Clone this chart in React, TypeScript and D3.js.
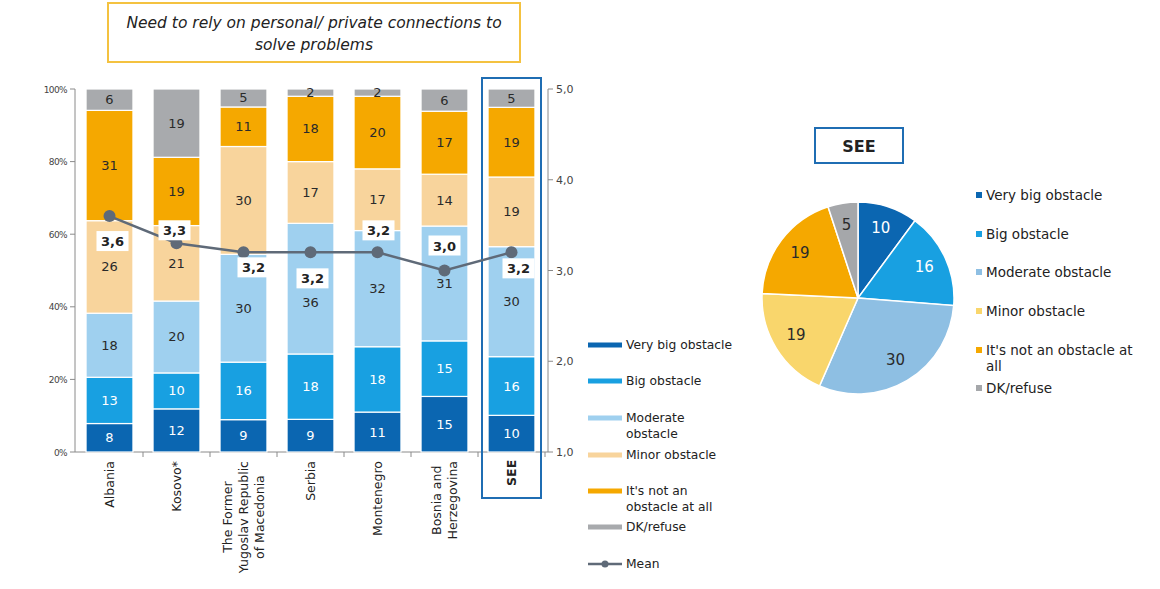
import React, { useEffect, useRef } from 'react';
import * as d3 from 'd3';

// ---------- data ----------
const categories = [
  'Albania',
  'Kosovo*',
  'The Former\nYugoslav Republic\nof Macedonia',
  'Serbia',
  'Montenegro',
  'Bosnia and\nHerzegovina',
  'SEE',
];
const seriesNames = [
  'Very big obstacle',
  'Big obstacle',
  'Moderate obstacle',
  'Minor obstacle',
  "It's not an obstacle at all",
  'DK/refuse',
];
const veryBig = [8, 12, 9, 9, 11, 15, 10];
const big = [13, 10, 16, 18, 18, 15, 16];
const moderate = [18, 20, 30, 36, 32, 31, 30];
const minor = [26, 21, 30, 17, 17, 14, 19];
const notAtAll = [31, 19, 11, 18, 20, 17, 19];
const dkRefuse = [6, 19, 5, 2, 2, 6, 5];
const means = [3.6, 3.3, 3.2, 3.2, 3.2, 3.0, 3.2];
const pieValues = [10, 16, 30, 19, 19, 5];
const leftTicks = [0, 20, 40, 60, 80, 100];
const rightTicks = [1, 2, 3, 4, 5];
const titleLines = ['Need to rely on personal/ private connections to', 'solve problems'];

// ---------- styles ----------
const barColors = ['#0b66b1', '#18a0e1', '#9fd0ef', '#f8d49c', '#f5a800', '#a8aaad'];
const pieColors = ['#0b66b1', '#18a0e1', '#8ebfe3', '#f9d66c', '#f5a800', '#a5a7aa'];
const barTextColors = ['#ffffff', '#ffffff', '#2a2a2a', '#2a2a2a', '#2a2a2a', '#2a2a2a'];
const pieTextColors = ['#ffffff', '#ffffff', '#2a2a2a', '#2a2a2a', '#2a2a2a', '#2a2a2a'];
// mean label offsets relative to the dot [dx, dy]
const meanLabelOffsets: [number, number][] = [
  [3, 25], [-2, -13], [10, 15], [2, 26], [1, -22], [0, -25], [7, 16],
];
// vertical nudges for bar value labels: [seriesIndex, categoryIndex, dy]
const valueLabelNudges: [number, number, number][] = [[2, 3, 14]];
const FONT = "'DejaVu Sans', 'Liberation Sans', sans-serif";

export default function App() {
  const ref = useRef<SVGSVGElement | null>(null);

  useEffect(() => {
    const svg = d3.select(ref.current);
    svg.selectAll('*').remove();

    // ---------- title ----------
    svg.append('rect').attr('x', 108).attr('y', 3).attr('width', 412).attr('height', 59)
      .attr('fill', '#fff').attr('stroke', '#f4c240').attr('stroke-width', 2);
    titleLines.forEach((t, i) => {
      svg.append('text').attr('x', 314).attr('y', 28 + i * 22).attr('text-anchor', 'middle')
        .attr('font-family', FONT).attr('font-style', 'italic').attr('font-size', 15.5)
        .attr('fill', '#222').text(t);
    });

    // ---------- scales ----------
    const x = d3.scaleBand<string>().domain(categories).range([76, 545]).padding(0);
    const barW = x.bandwidth() * 0.7;
    const yPct = d3.scaleLinear().domain([0, 1]).range([452, 89]);
    const yLeft = d3.scaleLinear().domain([0, 100]).range([452, 89]);
    const yRight = d3.scaleLinear().domain([1, 5]).range([452, 89]);

    const seriesArrays = [veryBig, big, moderate, minor, notAtAll, dkRefuse];
    const rows = categories.map((c, i) => {
      const r: any = { cat: c };
      seriesNames.forEach((s, j) => (r[s] = seriesArrays[j][i]));
      return r;
    });
    const stack = d3.stack<any>().keys(seriesNames).offset(d3.stackOffsetExpand);
    const stacked = stack(rows);

    // ---------- axes ----------
    const axisColor = '#8a8a8a';
    const gAxes = svg.append('g');
    gAxes.append('line').attr('x1', 75).attr('x2', 75).attr('y1', 89).attr('y2', 452).attr('stroke', axisColor);
    gAxes.append('line').attr('x1', 75).attr('x2', 548).attr('y1', 452).attr('y2', 452).attr('stroke', axisColor);
    gAxes.append('line').attr('x1', 548).attr('x2', 548).attr('y1', 89).attr('y2', 452).attr('stroke', axisColor);
    leftTicks.forEach((t) => {
      const yy = yLeft(t);
      gAxes.append('line').attr('x1', 70).attr('x2', 75).attr('y1', yy).attr('y2', yy).attr('stroke', axisColor);
      gAxes.append('text').attr('x', 67).attr('y', yy + 3.5).attr('text-anchor', 'end')
        .attr('font-family', FONT).attr('font-size', 9).attr('letter-spacing', -0.6)
        .attr('fill', '#444').text(`${t}%`);
    });
    rightTicks.forEach((t) => {
      const yy = yRight(t);
      gAxes.append('line').attr('x1', 548).attr('x2', 553).attr('y1', yy).attr('y2', yy).attr('stroke', axisColor);
      gAxes.append('text').attr('x', 556).attr('y', yy + 4).attr('text-anchor', 'start')
        .attr('font-family', FONT).attr('font-size', 11).attr('fill', '#444').text(d3.format('.1f')(t).replace('.', ','));
    });
    categories.forEach((c) => {
      const xx = (x(c) as number) + x.bandwidth();
      gAxes.append('line').attr('x1', xx).attr('x2', xx).attr('y1', 452).attr('y2', 457).attr('stroke', axisColor);
    });

    // ---------- bars ----------
    const gBars = svg.append('g');
    stacked.forEach((layer, j) => {
      layer.forEach((d, i) => {
        const c = categories[i];
        const x0 = (x(c) as number) + (x.bandwidth() - barW) / 2;
        const y0 = yPct(d[1]);
        const y1 = yPct(d[0]);
        gBars.append('rect').attr('x', x0).attr('y', y0).attr('width', barW).attr('height', y1 - y0)
          .attr('fill', barColors[j]).attr('stroke', '#fff').attr('stroke-width', 1.2);
        const nudge = valueLabelNudges.find((n) => n[0] === j && n[1] === i);
        gBars.append('text').attr('x', x0 + barW / 2).attr('y', (y0 + y1) / 2 + 4.5 + (nudge ? nudge[2] : 0))
          .attr('text-anchor', 'middle').attr('font-family', FONT).attr('font-size', 13)
          .attr('fill', barTextColors[j]).text(seriesArrays[j][i]);
      });
    });

    // ---------- SEE highlight ----------
    const seeX = x('SEE') as number;
    svg.append('rect').attr('x', seeX + x.bandwidth() / 2 - 29.5).attr('y', 78).attr('width', 59).attr('height', 420)
      .attr('fill', 'none').attr('stroke', '#1f6db3').attr('stroke-width', 2);

    // ---------- x labels ----------
    const gX = svg.append('g');
    const xFont = 12.5;
    categories.forEach((c) => {
      const lines = c.split('\n');
      const cx = (x(c) as number) + x.bandwidth() / 2;
      const tmp = gX.append('text').attr('font-family', FONT).attr('font-size', xFont);
      let maxW = 0;
      lines.forEach((l) => {
        tmp.text(l);
        maxW = Math.max(maxW, (tmp.node() as SVGTextElement).getComputedTextLength());
      });
      tmp.remove();
      const cy = 461 + maxW / 2;
      const lh = 16;
      lines.forEach((l, k) => {
        const lx = cx + (k - (lines.length - 1) / 2) * lh + 4.5;
        gX.append('text').attr('transform', `translate(${lx},${cy}) rotate(-90)`)
          .attr('text-anchor', 'middle').attr('font-family', FONT).attr('font-size', xFont)
          .attr('fill', '#222').attr('font-weight', c === 'SEE' ? 'bold' : 'normal').text(l);
      });
    });

    // ---------- mean line ----------
    const meanColor = '#5f6a78';
    const line = d3.line<number>().x((_, i) => (x(categories[i]) as number) + x.bandwidth() / 2).y((d) => yRight(d));
    svg.append('path').attr('d', line(means) as string).attr('fill', 'none').attr('stroke', meanColor).attr('stroke-width', 2.5);
    means.forEach((m, i) => {
      const cx = (x(categories[i]) as number) + x.bandwidth() / 2;
      svg.append('circle').attr('cx', cx).attr('cy', yRight(m)).attr('r', 6).attr('fill', meanColor);
    });
    means.forEach((m, i) => {
      const cx = (x(categories[i]) as number) + x.bandwidth() / 2 + meanLabelOffsets[i][0];
      const cy = yRight(m) + meanLabelOffsets[i][1];
      svg.append('rect').attr('x', cx - 16).attr('y', cy - 10).attr('width', 32).attr('height', 20).attr('fill', '#fff');
      svg.append('text').attr('x', cx).attr('y', cy + 5).attr('text-anchor', 'middle')
        .attr('font-family', FONT).attr('font-size', 13).attr('font-weight', 'bold').attr('fill', '#222')
        .text(d3.format('.1f')(m).replace('.', ','));
    });

    // ---------- middle legend ----------
    const legendItems = [
      { lines: ['Very big obstacle'], y: 345 },
      { lines: ['Big obstacle'], y: 381 },
      { lines: ['Moderate', 'obstacle'], y: 418 },
      { lines: ['Minor obstacle'], y: 455 },
      { lines: ["It's not an", 'obstacle at all'], y: 491 },
      { lines: ['DK/refuse'], y: 527 },
    ];
    const legFont = 12.3;
    const gL = svg.append('g');
    legendItems.forEach((it, j) => {
      gL.append('line').attr('x1', 588).attr('x2', 622).attr('y1', it.y).attr('y2', it.y)
        .attr('stroke', barColors[j]).attr('stroke-width', 5);
      it.lines.forEach((l, k) => {
        gL.append('text').attr('x', 626).attr('y', it.y + 4 + k * 16).attr('font-family', FONT)
          .attr('font-size', legFont).attr('fill', '#222').text(l);
      });
    });
    gL.append('line').attr('x1', 588).attr('x2', 622).attr('y1', 564).attr('y2', 564).attr('stroke', meanColor).attr('stroke-width', 2.5);
    gL.append('circle').attr('cx', 605).attr('cy', 564).attr('r', 3.5).attr('fill', meanColor);
    gL.append('text').attr('x', 626).attr('y', 568).attr('font-family', FONT).attr('font-size', legFont).attr('fill', '#222').text('Mean');

    // ---------- pie ----------
    svg.append('rect').attr('x', 815).attr('y', 128).attr('width', 88).attr('height', 35)
      .attr('fill', '#fff').attr('stroke', '#1f6db3').attr('stroke-width', 2);
    svg.append('text').attr('x', 859).attr('y', 152).attr('text-anchor', 'middle').attr('font-family', FONT)
      .attr('font-size', 16).attr('font-weight', 'bold').attr('fill', '#222').text('SEE');

    const pcx = 858, pcy = 298, r = 96;
    const pie = d3.pie<number>().sort(null).value((d) => d);
    const arcs = pie(pieValues);
    const arc = d3.arc<d3.PieArcDatum<number>>().innerRadius(0).outerRadius(r);
    const labelArc = d3.arc<d3.PieArcDatum<number>>().innerRadius(r * 0.76).outerRadius(r * 0.76);
    const gP = svg.append('g').attr('transform', `translate(${pcx},${pcy})`);
    arcs.forEach((a, j) => {
      gP.append('path').attr('d', arc(a) as string).attr('fill', pieColors[j]).attr('stroke', '#fff').attr('stroke-width', 1.5);
    });
    arcs.forEach((a, j) => {
      const [lx, ly] = labelArc.centroid(a);
      gP.append('text').attr('x', lx).attr('y', ly + 4).attr('text-anchor', 'middle').attr('font-family', FONT)
        .attr('font-size', 15).attr('fill', pieTextColors[j]).text(a.data);
    });

    // ---------- pie legend ----------
    const pieLegend = [
      { lines: ['Very big obstacle'], y: 195 },
      { lines: ['Big obstacle'], y: 234 },
      { lines: ['Moderate obstacle'], y: 272 },
      { lines: ['Minor obstacle'], y: 311 },
      { lines: ["It's not an obstacle at", 'all'], y: 350 },
      { lines: ['DK/refuse'], y: 388 },
    ];
    const gPL = svg.append('g');
    pieLegend.forEach((it, j) => {
      gPL.append('rect').attr('x', 976).attr('y', it.y - 3).attr('width', 6).attr('height', 6).attr('fill', pieColors[j]);
      it.lines.forEach((l, k) => {
        gPL.append('text').attr('x', 986).attr('y', it.y + 4.5 + k * 16).attr('font-family', FONT)
          .attr('font-size', 13.5).attr('fill', '#222').text(l);
      });
    });
  }, []);

  return (
    <svg ref={ref} width={1160} height={589}
      style={{ position: 'absolute', left: 0, top: 0, background: '#fff', display: 'block' }} />
  );
}
